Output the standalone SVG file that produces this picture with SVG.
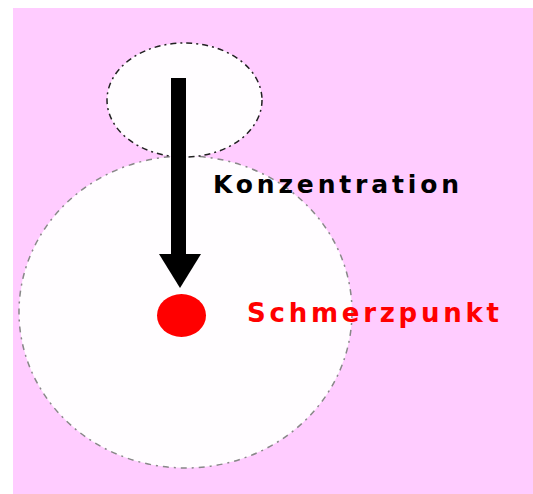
<svg xmlns="http://www.w3.org/2000/svg" width="533" height="494" viewBox="0 0 533 494">
<style>
.bg{fill:#FFCCFF}
.zone{fill:#FFFDFF;stroke-width:1.5}
.big{stroke:#888888;stroke-dasharray:6 5 2 5}
.small{stroke:#222222;stroke-dasharray:6 4 2 4}
.lbl{font-family:"DejaVu Sans",Verdana,sans-serif;font-weight:bold}
</style>
<rect width="533" height="494" fill="#FFFFFF"/>
<rect class="bg" x="13" y="8" width="520" height="486"/>
<g id="big-circle">
<ellipse class="zone big" cx="185.5" cy="312" rx="166.5" ry="156"/>
</g>
<g id="small-circle">
<ellipse class="zone small" cx="184.5" cy="100" rx="77.5" ry="57"/>
</g>
<g id="connectors">
<rect x="171" y="78" width="15" height="178" fill="#000000"/>
<polygon points="159,254 201,254 180,288" fill="#000000"/>
</g>
<g id="konzentration">
<text class="lbl" x="213" y="193" font-size="25" fill="#000000" textLength="246" lengthAdjust="spacing">Konzentration</text>
</g>
<g id="schmerzpunkt">
<ellipse cx="181.5" cy="315.5" rx="24.5" ry="21.5" fill="#FF0000"/>
<text class="lbl" x="247" y="322" font-size="26" fill="#FF0000" textLength="252" lengthAdjust="spacing">Schmerzpunkt</text>
</g>
</svg>
